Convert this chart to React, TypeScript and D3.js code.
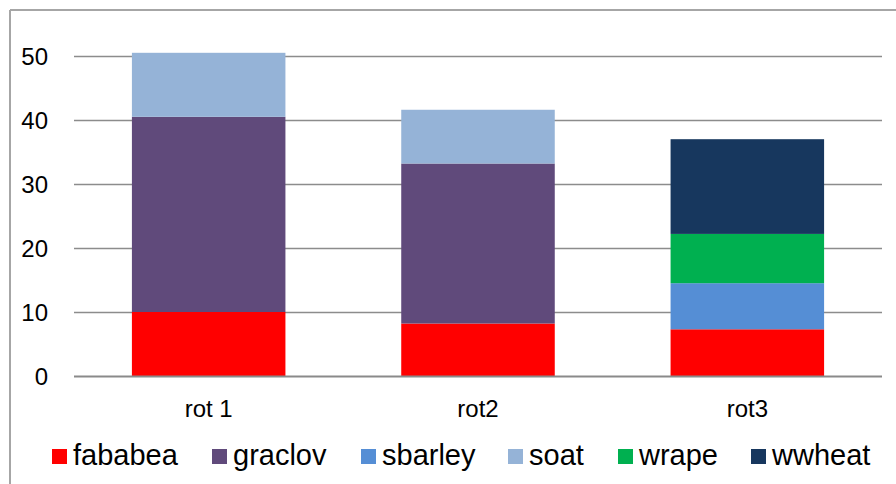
import React from "react";
import * as d3 from "d3";

const categories = ["rot 1", "rot2", "rot3"];
const seriesNames = ["fababea", "graclov", "sbarley", "soat", "wrape", "wwheat"];
const fababea = [10.0, 8.2, 7.3];
const graclov = [30.5, 25.0, 0];
const sbarley = [0, 0, 7.2];
const soat = [10.0, 8.4, 0];
const wrape = [0, 0, 7.7];
const wwheat = [0, 0, 14.8];
const seriesColors = ["#FF0000", "#604A7B", "#558ED5", "#95B3D7", "#00B050", "#17375E"];
const yTicks = [0, 10, 20, 30, 40, 50];

const W = 896;
const H = 484;

export default function App() {
  const seriesValues = [fababea, graclov, sbarley, soat, wrape, wwheat];
  const table = categories.map((c, i) => {
    const row: any = { cat: c };
    seriesNames.forEach((s, j) => (row[s] = seriesValues[j][i]));
    return row;
  });
  const stacked = d3.stack<any>().keys(seriesNames)(table);

  const x = d3
    .scaleBand<string>()
    .domain(categories)
    .range([74, 882])
    .paddingInner(0.43)
    .paddingOuter(0.215);
  const y = d3.scaleLinear().domain([0, 50]).range([376, 56]);

  const font = "'Liberation Sans', Arial, sans-serif";

  const legendX = [52, 212, 361, 508, 618, 751];

  return (
    <svg
      width={W}
      height={H}
      style={{ position: "absolute", left: 0, top: 0, background: "#fff" }}
      fontFamily={font}
    >
      <rect x={0} y={0} width={W} height={H} fill="#fff" />
      {/* chart frame */}
      <line x1={10} y1={10} x2={W} y2={10} stroke="#a6a6a6" strokeWidth={2} />
      <line x1={10} y1={10} x2={10} y2={H} stroke="#a6a6a6" strokeWidth={2} />

      {/* gridlines */}
      {yTicks.map((t) =>
        t === 0 ? null : (
          <line
            key={"g" + t}
            x1={74}
            x2={882}
            y1={Math.round(y(t)) + 0.5}
            y2={Math.round(y(t)) + 0.5}
            stroke="#8c8c8c"
            strokeWidth={1.3}
          />
        )
      )}

      {/* bars */}
      {stacked.map((layer, si) =>
        layer.map((d, ci) => {
          const h = y(d[0]) - y(d[1]);
          if (h <= 0.01) return null;
          return (
            <rect
              key={si + "-" + ci}
              x={x(categories[ci])!}
              y={y(d[1])}
              width={x.bandwidth()}
              height={h}
              fill={seriesColors[si]}
            />
          );
        })
      )}

      {/* x axis line */}
      <line x1={74} x2={882} y1={y(0) + 0.5} y2={y(0) + 0.5} stroke="#8a8a8a" strokeWidth={2} />

      {/* y tick labels */}
      {yTicks.map((t) => (
        <text
          key={"t" + t}
          x={48}
          y={y(t) + 9}
          textAnchor="end"
          fontSize={24}
          fill="#000"
        >
          {t}
        </text>
      ))}

      {/* x labels */}
      {categories.map((c) => (
        <text
          key={c}
          x={x(c)! + x.bandwidth() / 2}
          y={417}
          textAnchor="middle"
          fontSize={24}
          fill="#000"
        >
          {c}
        </text>
      ))}

      {/* legend */}
      {seriesNames.map((s, i) => (
        <g key={s}>
          <rect x={legendX[i]} y={449} width={15} height={15} fill={seriesColors[i]} />
          <text x={legendX[i] + 21} y={465} fontSize={29} fill="#000">
            {s}
          </text>
        </g>
      ))}
    </svg>
  );
}
